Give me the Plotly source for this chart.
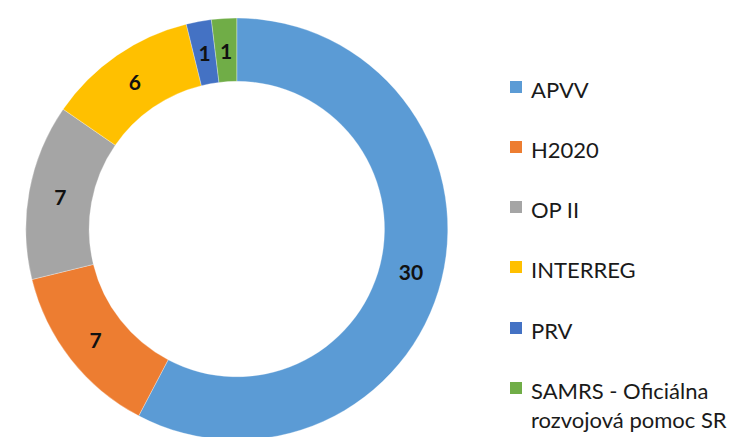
import plotly.graph_objects as go

labels = ["APVV", "H2020", "OP II", "INTERREG", "PRV", "SAMRS - Oficiálna<br>rozvojová pomoc SR"]
values = [30, 7, 7, 6, 1, 1]
colors = ["#5B9BD5", "#ED7D31", "#A5A5A5", "#FFC000", "#4472C4", "#70AD47"]
small = [v <= 1 for v in values]  # thin slices get their label from the overlay ring

H = 437
W = 738
OFF = 8  # page body margin offset

label_font = dict(family="Lato", size=21, color="#111111", weight="bold")

fig = go.Figure()
fig.add_trace(go.Pie(
    labels=labels, values=values, sort=False, direction="clockwise", rotation=0,
    hole=0.70, marker=dict(colors=colors, line=dict(color="white", width=0.3)),
    texttemplate=["" if s else "%{value}" for s in small],
    textposition="inside", insidetextorientation="horizontal",
    textfont=label_font,
    domain=dict(x=[0.024, 0.596], y=[0.0114, 0.977]),
    showlegend=False, hoverinfo="label+value",
))
# transparent overlay ring (same data) used only to place labels of thin slices at mid-ring
fig.add_trace(go.Pie(
    labels=labels, values=values, sort=False, direction="clockwise", rotation=0,
    hole=0.5, marker=dict(colors=["rgba(0,0,0,0)"] * len(values), line=dict(width=0)),
    texttemplate=["%{value}" if s else "" for s in small],
    textposition="inside", insidetextorientation="horizontal",
    textfont=label_font,
    domain=dict(x=[0.0528, 0.5678], y=[0.0595, 0.929]),
    showlegend=False, hoverinfo="skip",
))

# manual legend
legend_y = [87, 147, 207, 267, 328, 388]
for i, (lab, col) in enumerate(zip(labels, colors)):
    yc = legend_y[i] - OFF
    x0 = 510 - OFF
    fig.add_shape(type="rect", xref="paper", yref="paper",
                  x0=x0 / W, x1=(x0 + 12) / W, y0=1 - (yc + 6) / H, y1=1 - (yc - 6) / H,
                  fillcolor=col, line=dict(width=0))
    fig.add_annotation(xref="paper", yref="paper", x=(529 - OFF) / W, y=1 - (yc - 13) / H,
                       xanchor="left", yanchor="top", text=lab, showarrow=False,
                       align="left", font=dict(family="Lato", size=22, color="#1a1a1a"))

fig.update_layout(width=W, height=H, margin=dict(l=0, r=0, t=0, b=0),
                  paper_bgcolor="white", plot_bgcolor="white",
                  uniformtext=dict(minsize=21, mode="show"))
fig.write_html("out.html")
